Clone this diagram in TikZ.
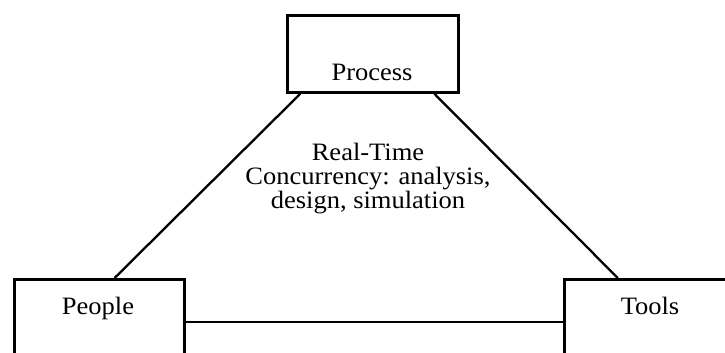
\documentclass[tikz,border=0pt]{standalone}
\usepackage{fontspec}
\setmainfont{Liberation Serif}[FakeStretch=1.06]
\usetikzlibrary{calc}
\begin{document}
\begin{tikzpicture}[x=1pt,y=-1pt,
  boxnode/.style={draw,line width=2.8pt,rectangle,inner sep=0pt,anchor=north west},
  label/.style={font=\fontsize{25}{23.7}\selectfont,inner sep=0pt,anchor=base},
  link/.style={line width=2.3pt}]
  \useasboundingbox (0,0) rectangle (725,353);
  \clip (0,0) rectangle (725,353);
  % the three corner boxes (the lower two run off the bottom and right edge)
  \node[boxnode,minimum width=171pt,minimum height=77pt] (process) at (286,14) {};
  \node[boxnode,minimum width=170pt,minimum height=120pt] (people) at (13,278) {};
  \node[boxnode,minimum width=200pt,minimum height=120pt] (tools) at (563,278) {};
  % box titles
  \node[label] (processtxt) at (372,81) {Process};
  \node[label] (peopletxt) at (98,314) {People};
  \node[label] (toolstxt) at (650,314) {Tools};
  % central caption
  \node[font=\fontsize{25}{23.7}\selectfont,align=center,inner sep=0pt,anchor=base] (centre) at (368,208)
    {Real-Time\\Concurrency: analysis,\\design, simulation};
  % connectors between the boxes
  \draw[link] ($(process.south west)!0.082!(process.south east)$) -- ($(people.north west)!0.588!(people.north east)$);
  \draw[link] ($(process.south west)!0.854!(process.south east)$) -- ($(tools.north west)!0.27!(tools.north east)$);
  \coordinate (pe) at ($(people.north east)+(0,44)$);
  \draw[link] (pe) -- (tools.west |- pe);
\end{tikzpicture}
\end{document}
